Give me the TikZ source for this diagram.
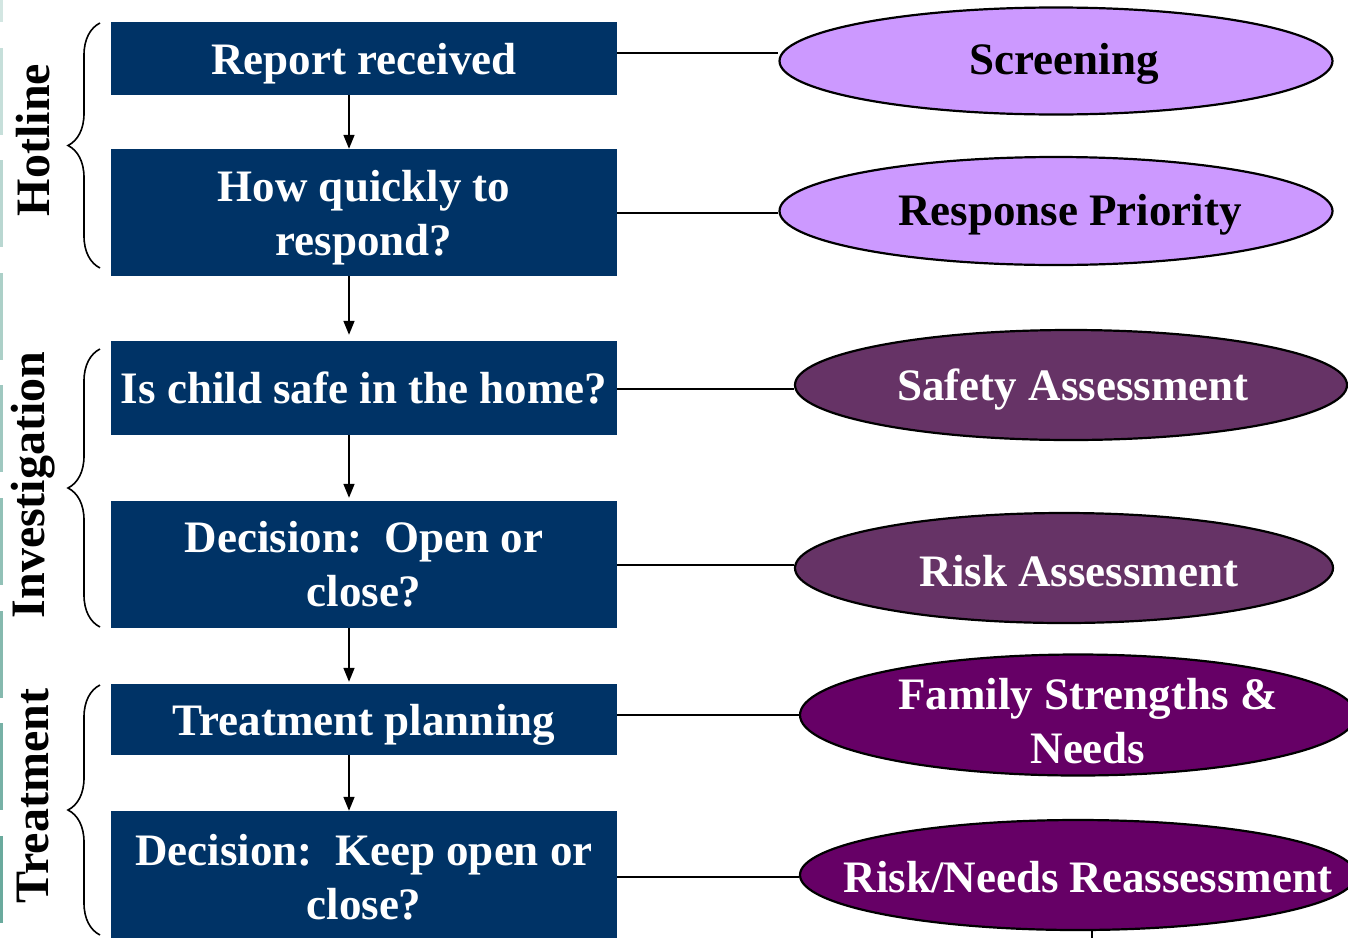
\documentclass[tikz,border=0pt]{standalone}
\usepackage{fontspec}
\setmainfont{Liberation Serif}
\usetikzlibrary{shapes.geometric, arrows.meta, decorations.pathreplacing, positioning}
\frenchspacing

\definecolor{stageblue}{HTML}{003366}
\definecolor{lilac}{HTML}{CC99FF}
\definecolor{plum}{HTML}{663366}
\definecolor{deeppurple}{HTML}{660066}
\definecolor{sidebar}{RGB}{80,155,140}

\tikzset{
  stage/.style={rectangle, fill=stageblue, text=white, minimum width=506pt,
    inner sep=0pt, align=center, font=\bfseries\fontsize{45}{54}\selectfont},
  oval/.style={ellipse, draw=black, line width=2.2pt, inner sep=0pt},
  ovaltext/.style={align=center, inner sep=0pt, font=\bfseries\fontsize{45}{54}\selectfont},
  phase/.style={rotate=90, inner sep=0pt, font=\bfseries\fontsize{48}{54}\selectfont},
  flow/.style={-{Triangle[length=14pt,width=11pt]}, line width=1.6pt},
  link/.style={line width=2pt, draw=black},
  bracket/.style={decorate, decoration={brace, amplitude=32pt}, line width=1.6pt}
}

\begin{document}
\begin{tikzpicture}[x=1pt, y=-1pt]
  \useasboundingbox (0,0) rectangle (1348,937);
  \clip (0,0) rectangle (1348,937);

  % Strip along the left edge
  \foreach \i in {0,...,8} {
    \pgfmathsetmacro\tint{25+7.5*\i}
    \fill[sidebar!\tint] (0,{-65+112.6*\i}) rectangle (3,{22+112.6*\i});
  }

  % Steps of the case
  \node[stage, minimum height=73pt, text depth=0pt]  (b1) at (364,58.5)  {Report received};
  \node[stage, minimum height=127pt, text depth=0pt] (b2) at (364,212.5) {How quickly to\\respond?};
  \node[stage, minimum height=94pt]  (b3) at (364,388)   {Is child safe in the home?};
  \node[stage, minimum height=127pt] (b4) at (364,564.5) {Decision:\ \ Open or\\close?};
  \node[stage, minimum height=71pt, text depth=0pt]  (b5) at (364,719.5) {Treatment planning};
  \node[stage, minimum height=132pt] (b6) at (364,877)   {Decision:\ \ Keep open or\\close?};

  % Flow from step to step
  \foreach \a/\b/\gap in {b1/b2/0, b2/b3/6, b3/b4/3, b4/b5/2, b5/b6/0}
    \draw[flow, shorten >=\gap pt] ([xshift=-15pt]\a.south) -- ([xshift=-15pt]\b.north);

  % Tools used at each step
  \node[oval, fill=lilac, minimum width=553pt, minimum height=107pt] (e1) at (1056,61) {};
  \node[oval, fill=lilac, minimum width=553pt, minimum height=108pt] (e2) at (1056,211) {};
  \node[oval, fill=plum, minimum width=552pt, minimum height=110pt] (e3) at (1071,385) {};
  \node[oval, fill=plum, minimum width=538pt, minimum height=110pt] (e4) at (1064,568) {};
  \node[oval, fill=deeppurple, minimum width=556pt, minimum height=121pt] (e5) at (1078,715) {};
  \node[oval, fill=deeppurple, minimum width=556pt, minimum height=110pt] (e6) at (1078,875) {};

  \node[ovaltext] (t1) at ([xshift=8pt, yshift=-3pt]e1)  {Screening};
  \node[ovaltext] (t2) at ([xshift=14pt, yshift=-4pt]e2) {Response Priority};
  \node[ovaltext, text=white] (t3) at ([xshift=2pt, yshift=-5pt]e3)  {Safety Assessment};
  \node[ovaltext, text=white] (t4) at ([xshift=15pt, yshift=-3pt]e4) {Risk Assessment};
  \node[ovaltext, text=white] (t5) at ([xshift=10pt, yshift=-6pt]e5) {Family Strengths \&\\Needs};
  \node[ovaltext, text=white] (t6) at ([xshift=10pt, yshift=-2pt]e6) {Risk/Needs Reassessment};

  % Links from steps to tools
  \foreach \n/\dy in {1/5.5, 2/0, 3/-1, 4/0, 5/4.5, 6/0}
    \draw[link] ([yshift=\dy pt]b\n.east) -- ([yshift=\dy pt]b\n.east -| e\n.west);

  \coordinate (tail) at (1092,945);
  \draw[link] (e6.south -| tail) -- (tail);

  % Phases
  \draw[bracket] (100,268) -- (100,23);
  \draw[bracket] (100,627) -- (100,349);
  \draw[bracket] (100,935) -- (100,685);

  \node[phase] (hotline) at (33,140) {Hotline};
  \node[phase] (investigation) at (33,485) {Investigation};
  \node[phase] (treatment) at (33,796) {Treatment};
\end{tikzpicture}
\end{document}
